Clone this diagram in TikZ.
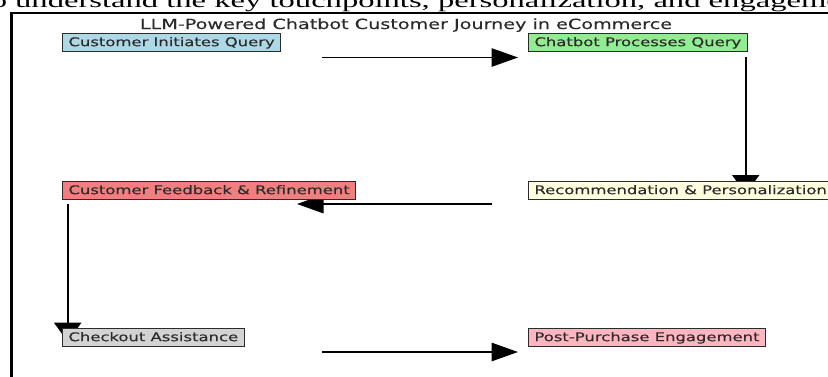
\documentclass[tikz,border=0pt]{standalone}
\usepackage{fontspec}
\setmainfont{Liberation Serif}
\newfontfamily\diagfont[FakeStretch=1.37,FakeBold=0.3]{DejaVu Sans}
\newfontfamily\bodyfont[FakeStretch=1.63]{Liberation Serif}
\usetikzlibrary{arrows.meta,backgrounds}

\definecolor{cLightBlue}{HTML}{ADD8E6}
\definecolor{cLightGreen}{HTML}{90EE90}
\definecolor{cLightYellow}{HTML}{FFFFE0}
\definecolor{cLightCoral}{HTML}{F08080}
\definecolor{cLightGray}{HTML}{D3D3D3}
\definecolor{cPink}{HTML}{FFB6C1}
\definecolor{cInk}{HTML}{2B2B2B}

\tikzset{
  stagebox/.style={draw=cInk, line width=0.9pt, anchor=north west,
    font=\diagfont\fontsize{12}{14}\selectfont, text=cInk,
    inner xsep=6pt, inner ysep=3pt, text height=9.7pt, text depth=2.3pt},
  flowh/.style={line width=1.3pt, -{Triangle[length=26.5pt,width=18.5pt]}},
  flowv/.style={line width=1.9pt, -{Triangle[length=19pt,width=27pt]}},
}

\begin{document}
\begin{tikzpicture}[x=1pt,y=-1pt]
\useasboundingbox (0,0) rectangle (828,376);
\clip (0,0) rectangle (828,376);

% running text of the page above the figure
\node[anchor=base west, inner sep=0, font=\bodyfont\fontsize{20}{24}\selectfont]
  (intro) at (-18.5,7.5) {to understand the key touchpoints, personalization, and engagement};

% figure frame
\draw[line width=2.8pt] (11.3,400) -- (11.3,12.8);
\draw[line width=1.8pt] (10,12.8) -- (900,12.8);

% title
\node[anchor=base, inner sep=0, font=\diagfont\fontsize{14}{16}\selectfont, text=cInk]
  (title) at (406,29) {LLM-Powered Chatbot Customer Journey in eCommerce};

% journey stages
\node[stagebox, fill=cLightBlue]   (query)     at (62,33)  {Customer Initiates Query};
\node[stagebox, fill=cLightGreen]  (process)   at (528,33) {Chatbot Processes Query};
\node[stagebox, fill=cLightCoral]  (feedback)  at (62,181) {Customer Feedback \& Refinement};
\node[stagebox, fill=cLightYellow] (recommend) at (528,181) {Recommendation \& Personalization};
\node[stagebox, fill=cLightGray]   (checkout)  at (62,328) {Checkout Assistance};
\node[stagebox, fill=cPink]        (post)      at (528,328) {Post-Purchase Engagement};

% arrow end points
\coordinate (a1s) at (322,57.5);  \coordinate (a1e) at (518,57.5);
\coordinate (a2s) at (745.7,57);  \coordinate (a2e) at (745.7,194);
\coordinate (a3s) at (492,204);   \coordinate (a3e) at (297,204);
\coordinate (a4s) at (67.7,204);  \coordinate (a4e) at (67.7,341.7);
\coordinate (a5s) at (322,352);   \coordinate (a5e) at (518,352);

% connectors, kept beneath the boxes
\begin{scope}[on background layer]
  \draw[flowh] (a1s) -- (a1e);
  \draw[flowv] (a2s) -- (a2e);
  \draw[flowh] (a3s) -- (a3e);
  \draw[flowv] (a4s) -- (a4e);
  \draw[flowh] (a5s) -- (a5e);
\end{scope}
\end{tikzpicture}
\end{document}
